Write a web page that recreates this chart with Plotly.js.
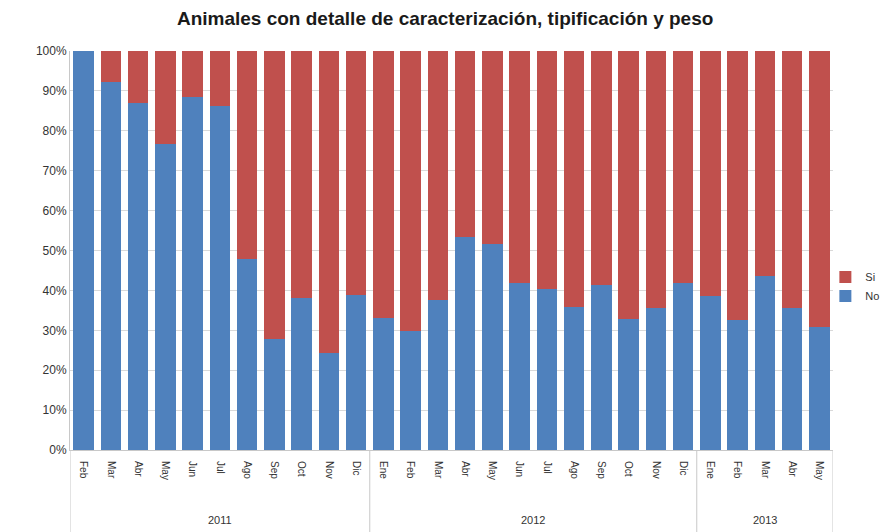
<!DOCTYPE html>
<html><head><meta charset="utf-8">
<script src="https://cdn.plot.ly/plotly-3.0.1.min.js"></script>
<style>html,body{margin:0;padding:0;background:#fff}#chart{width:885px;height:532px}</style>
</head><body><div id="chart"></div>
<script>
const years = ["2011","2011","2011","2011","2011","2011","2011","2011","2011","2011","2011",
  "2012","2012","2012","2012","2012","2012","2012","2012","2012","2012","2012","2012",
  "2013","2013","2013","2013","2013"];
const months = ["Feb","Mar","Abr","May","Jun","Jul","Ago","Sep","Oct","Nov","Dic",
  "Ene","Feb","Mar","Abr","May","Jun","Jul","Ago","Sep","Oct","Nov","Dic",
  "Ene","Feb","Mar","Abr","May"];
const noVals = [100,92.2,87.0,76.6,88.4,86.1,47.9,27.9,38.2,24.2,38.8,
  33.1,29.8,37.6,53.5,51.6,41.9,40.4,35.9,41.3,32.8,35.6,41.8,
  38.6,32.6,43.6,35.7,30.9];
const siVals = noVals.map(v => 100 - v);
const yTicks = [0,10,20,30,40,50,60,70,80,90,100];
const yLabels = yTicks.map(v => v + "%");

const idx = months.map((m, i) => i);
// group spans computed from the years array
const groups = [];
years.forEach((y, i) => {
  const g = groups[groups.length - 1];
  if (g && g.year === y) g.end = i; else groups.push({year: y, start: i, end: i});
});

const font = "Liberation Sans, Arial, sans-serif";
const data = [
  {type:"bar", name:"No", legendgroup:"no", x:idx, y:noVals, marker:{color:"#4F81BD"}, hoverinfo:"skip"},
  {type:"bar", name:"Si", legendgroup:"si", x:idx, y:siVals, marker:{color:"#C0504D"}, hoverinfo:"skip"}
];
const shapes = [];
const annotations = [];
const boundaries = [groups[0].start - 0.5].concat(groups.map(g => g.end + 0.5));
boundaries.forEach(b => shapes.push({type:"line", xref:"x", yref:"paper", x0:b, x1:b, y0:0, y1:-0.21,
  line:{color:"#c8c8c8", width:1}}));
groups.forEach(g => annotations.push({xref:"x", yref:"paper", x:(g.start + g.end) / 2, y:-0.175,
  text:g.year, showarrow:false, yanchor:"middle", font:{family:font, size:11, color:"#333"}}));

const layout = {
  width:885, height:532,
  margin:{l:70, r:52, t:51, b:82, autoexpand:false},
  barmode:"stack", bargap:0.25,
  paper_bgcolor:"#fff", plot_bgcolor:"#fff",
  title:{text:"<b>Animales con detalle de caracterización, tipificación y peso</b>",
    x:0.503, xanchor:"center", y:0.965, yanchor:"middle",
    font:{family:font, size:19, color:"#1a1a1a"}},
  xaxis:{range:[-0.5, months.length - 0.5], tickvals:idx, ticktext:months, tickangle:90,
    tickfont:{family:font, size:10, color:"#333"},
    showline:true, linecolor:"#c8c8c8", linewidth:1, ticks:"outside", ticklen:8, tickcolor:"rgba(0,0,0,0)",
    showgrid:false, zeroline:false},
  yaxis:{range:[0,100], tickvals:yTicks, ticktext:yLabels, tickfont:{family:font, size:12, color:"#333"},
    showgrid:true, gridcolor:"#d9d9d9", gridwidth:1, showline:true, linecolor:"#c8c8c8",
    zeroline:false, ticks:"", ticklen:0},
  legend:{x:0.99, y:0.41, xanchor:"left", yanchor:"middle", traceorder:"reversed",
    bgcolor:"rgba(0,0,0,0)", borderwidth:0,
    font:{family:font, size:11, color:"#333"}, itemwidth:30, tracegroupgap:8},
  shapes: shapes,
  annotations: annotations,
  showlegend:true
};
Plotly.newPlot("chart", data, layout, {displayModeBar:false, staticPlot:true});
</script></body></html>
